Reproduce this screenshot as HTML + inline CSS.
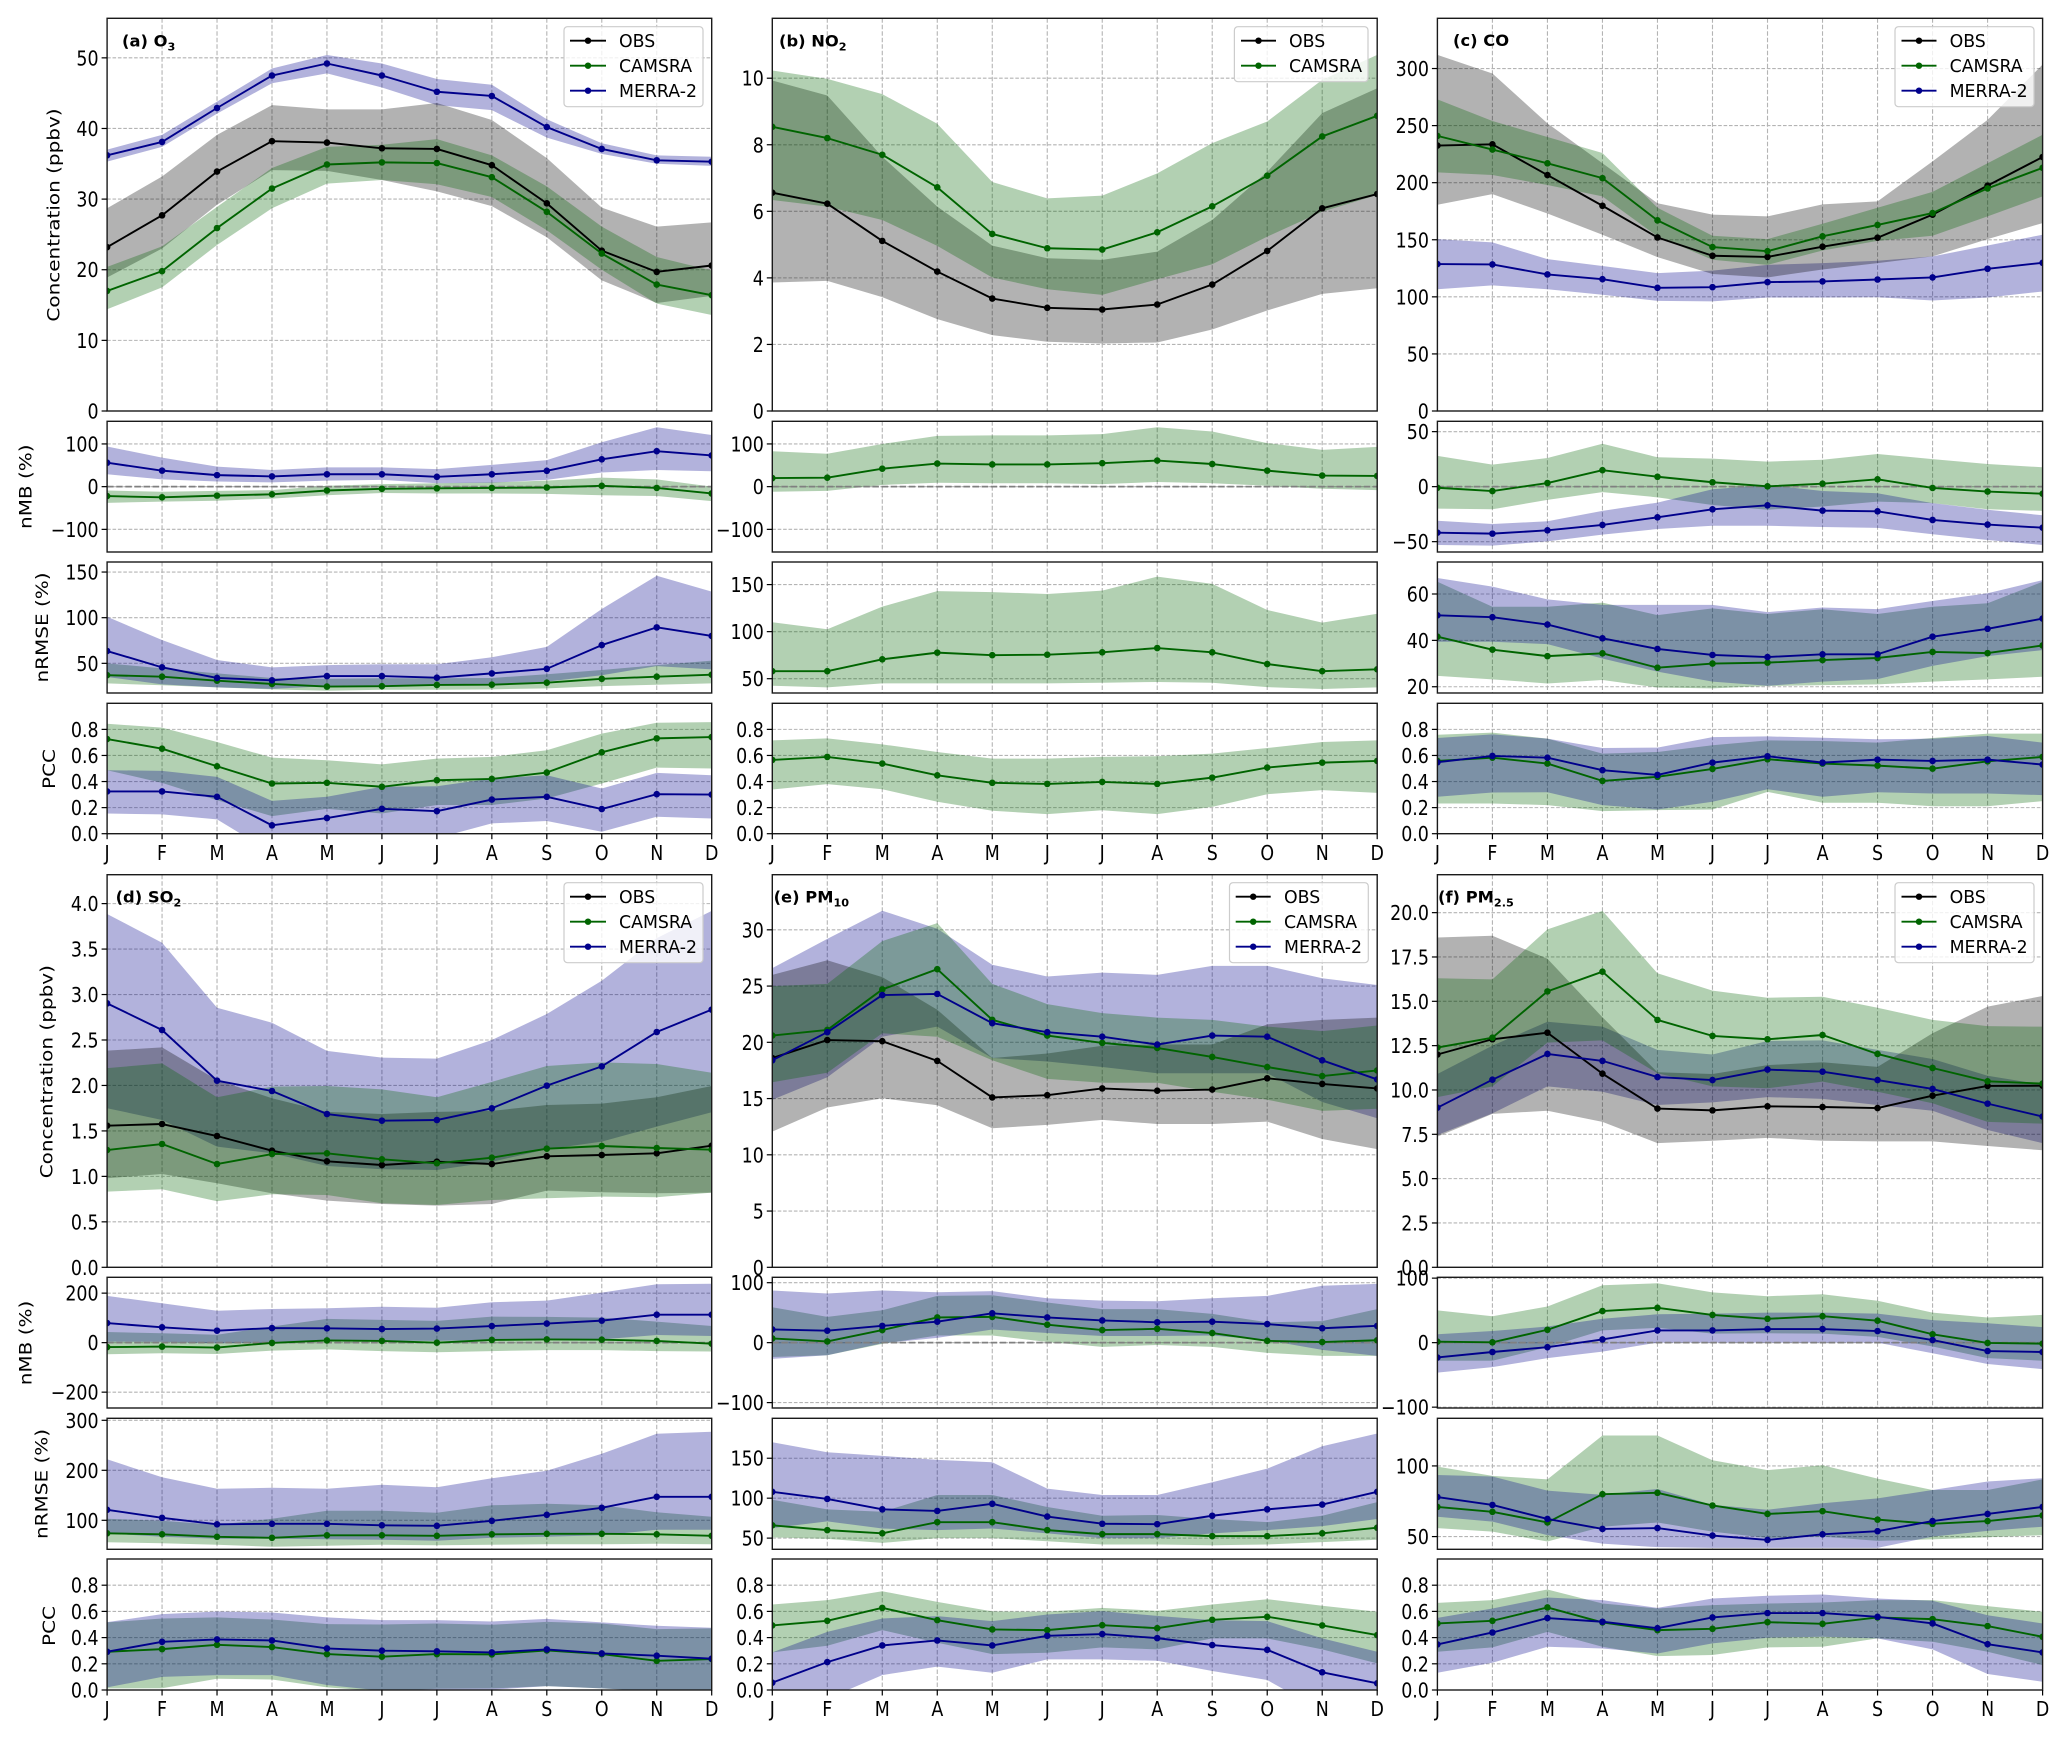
<!DOCTYPE html>
<html lang="en">
<head>
<meta charset="utf-8">
<title>Monthly air quality evaluation</title>
<style>
html,body{margin:0;padding:0;background:#fff}
svg{display:block}
text{font-family:"DejaVu Sans","Liberation Sans",sans-serif;fill:#000}
</style>
</head>
<body>
<svg id="figure" xmlns="http://www.w3.org/2000/svg" width="2067" height="1737" viewBox="0 0 2067 1737"></svg>
<script>
const months=['J','F','M','A','M','J','J','A','S','O','N','D'];

// (a) O3
const o3ConcObsMean=[23.2,27.7,33.9,38.2,38.0,37.2,37.1,34.8,29.4,22.7,19.7,20.6];
const o3ConcObsLow=[18.9,23.0,29.2,34.1,34.0,32.7,31.1,29.0,24.6,18.5,15.3,16.3];
const o3ConcObsHigh=[28.7,33.2,39.1,43.3,42.7,42.7,43.6,41.2,35.8,28.8,26.1,26.7];
const o3ConcCamsMean=[17.0,19.8,25.9,31.5,34.9,35.2,35.1,33.1,28.2,22.3,17.9,16.4];
const o3ConcCamsLow=[14.4,17.5,23.5,28.7,32.2,32.7,32.1,30.3,25.6,20.0,15.2,13.6];
const o3ConcCamsHigh=[20.4,23.3,28.9,34.4,37.4,37.7,38.5,36.2,31.8,26.1,21.8,19.9];
const o3ConcMerraMean=[36.2,38.1,42.9,47.5,49.2,47.5,45.2,44.6,40.2,37.1,35.5,35.3];
const o3ConcMerraLow=[35.3,37.4,42.1,46.4,47.8,45.8,43.3,42.6,38.7,36.4,35.0,34.7];
const o3ConcMerraHigh=[37.0,39.1,43.8,48.5,50.4,49.2,47.0,46.2,41.3,37.9,36.2,36.0];
const o3NmbCamsMean=[-22,-25,-21,-18,-9,-5,-4,-3,-2,2,-3,-16];
const o3NmbCamsLow=[-38,-35,-33,-28,-20,-15,-16,-16,-17,-20,-22,-34];
const o3NmbCamsHigh=[-9,-12,-10,-8,2,6,8,10,14,21,17,0];
const o3NmbMerraMean=[56,37.5,27,24,29,29,23,29,37,64,83,73];
const o3NmbMerraLow=[29,17,12,10,14,16,8,9,16,33,39,36];
const o3NmbMerraHigh=[94,68,47,39,45,45,41,51,62,104,139,121];
const o3RmseCamsMean=[37,35.4,31,27.4,24.5,25,26.3,26.6,28.8,33,35.4,37.6];
const o3RmseCamsLow=[28,26,23.7,21.5,20,21,21,21.5,22.6,25,26.6,28];
const o3RmseCamsHigh=[50,44.5,39,34,33,33.6,33.6,34,38,42.7,48,53];
const o3RmseMerraMean=[63.5,45.6,34,31.4,36,36,34.3,39,44,70,89.4,80];
const o3RmseMerraLow=[35,27,23.7,22,25,26,26,26,30,37,47,43.4];
const o3RmseMerraHigh=[101,75.5,53.6,45.6,48,49,49,56.6,68,109.5,146,128.5];
const o3PccCamsMean=[.726,.652,.517,.385,.39,.36,.41,.42,.469,.624,.731,.741];
const o3PccCamsLow=[.487,.39,.257,.135,.19,.155,.22,.22,.27,.385,.507,.5];
const o3PccCamsHigh=[.843,.813,.703,.583,.563,.532,.576,.589,.64,.767,.851,.856];
const o3PccMerraMean=[.324,.324,.283,.064,.12,.191,.173,.262,.283,.189,.303,.30];
const o3PccMerraLow=[.155,.148,.11,-.146,-.12,-.08,-.034,.079,.097,.015,.13,.117];
const o3PccMerraHigh=[.487,.482,.436,.252,.283,.36,.364,.423,.448,.347,.466,.448];

// (b) NO2
const no2ConcObsMean=[6.56,6.23,5.11,4.19,3.38,3.1,3.05,3.2,3.8,4.81,6.09,6.52];
const no2ConcObsLow=[3.86,3.91,3.42,2.76,2.28,2.08,2.03,2.06,2.45,3.02,3.52,3.69];
const no2ConcObsHigh=[9.93,9.48,7.64,6.14,4.97,4.59,4.54,4.79,5.74,7.19,8.95,9.7];
const no2ConcCamsMean=[8.54,8.2,7.7,6.72,5.32,4.89,4.85,5.37,6.15,7.07,8.25,8.87];
const no2ConcCamsLow=[6.34,6.14,5.74,4.96,4.01,3.66,3.49,3.96,4.41,5.24,5.99,6.49];
const no2ConcCamsHigh=[10.23,9.98,9.52,8.63,6.88,6.39,6.47,7.14,8.05,8.7,9.95,10.7];
const no2NmbCamsMean=[20,21,42,54,52,52,55,61,53,37.5,26,25];
const no2NmbCamsLow=[-12,-10,4,9,8,8,6,11,8,2,-5,-8];
const no2NmbCamsHigh=[83,77,100,119,120,120,123,139,129,102,86,93];
const no2RmseCamsMean=[58,58,70.6,77.7,75,75.5,78,82.6,78,65.6,58,60];
const no2RmseCamsLow=[42.5,40.8,45,45,45,45,45.7,46.5,45.7,41,39,40.8];
const no2RmseCamsHigh=[110,102.5,126.6,143,142,140,143.6,158.5,150.7,123,109.6,119];
const no2PccCamsMean=[.566,.589,.538,.448,.39,.382,.397,.382,.43,.507,.545,.558];
const no2PccCamsLow=[.339,.38,.341,.245,.176,.15,.18,.15,.206,.303,.334,.313];
const no2PccCamsHigh=[.716,.731,.685,.627,.576,.576,.589,.594,.614,.657,.703,.716];

// (c) CO
const coConcObsMean=[232.5,233.6,206.7,179.8,152,136,135,143.9,151.8,172,197.4,222.5];
const coConcObsLow=[180.7,190,173,154.4,134.8,120,117,124,129.5,135.4,150.6,164.6];
const coConcObsHigh=[312,295.6,252,217,182,172,170.5,181,183.6,218.7,255,303.5];
const coConcCamsMean=[241,229,217,204,167,143.6,140,153,163,173.4,195,213];
const coConcCamsLow=[209,206.7,198,188,153,132.5,128,140.6,149,153.5,170.5,188];
const coConcCamsHigh=[273,254,240,226,178,153.5,150.6,164,178,192,217,242];
const coConcMerraMean=[128.7,128.4,119.6,115.5,107.9,108.5,112.9,113.5,115.2,117,124.6,129.8];
const coConcMerraLow=[106.7,110,106.7,101.8,96.5,96,99.4,99.4,99.7,96.8,99.4,104.7];
const coConcMerraHigh=[150.6,147.7,133,127,120.8,123,128,129.5,131.6,135.4,145,154.4];
const coNmbCamsMean=[-1,-4,3.3,15,9,4,.3,2.7,6.7,-1.2,-4.5,-6.4];
const coNmbCamsLow=[-20,-20.6,-12,-5,-9.7,-16.7,-21,-18,-13.6,-15,-20.6,-22];
const coNmbCamsHigh=[28,20,26,39,26.7,25.5,22.7,24.5,29.7,25,20.6,17.6];
const coNmbMerraMean=[-41.8,-42.7,-39.7,-34.8,-27.9,-20.6,-17,-21.8,-22.4,-30.3,-34.5,-37.3];
const coNmbMerraLow=[-53,-53.6,-49.7,-43.6,-38.5,-35.5,-35.5,-36.7,-37.5,-43.3,-48.5,-53];
const coNmbMerraHigh=[-31,-34,-31.5,-22,-14.5,-2.4,1.5,-4,-6,-15,-21,-26];
const coRmseCamsMean=[41.6,36,33.2,34.4,28.2,30,30.4,31.5,32.4,35,34.5,37.8];
const coRmseCamsLow=[24.7,23.2,21.4,22.9,19.7,19.3,20.3,20.7,21,22.2,23.2,24.3];
const coRmseCamsHigh=[65.3,54.5,54.5,56.3,50.9,53.8,51.4,53.4,51.4,54.5,56,65.3];
const coRmseMerraMean=[50.8,50,46.8,40.9,36.3,33.7,32.8,34,34,41.6,45,49.4];
const coRmseMerraLow=[39.4,39.4,38.4,32.2,26.5,22.2,20.4,22.2,23.3,29,33.2,35.8];
const coRmseMerraHigh=[66.9,63.2,57.7,55.3,55.3,55.3,52.2,54.2,53.5,57,60.3,66];
const coPccCamsMean=[.558,.583,.538,.405,.436,.497,.571,.538,.522,.499,.555,.589];
const coPccCamsLow=[.232,.232,.219,.173,.181,.186,.321,.237,.237,.211,.211,.25];
const coPccCamsHigh=[.759,.775,.729,.614,.627,.678,.716,.711,.698,.734,.767,.767];
const coPccMerraMean=[.548,.596,.583,.487,.451,.545,.594,.545,.568,.558,.568,.53];
const coPccMerraLow=[.283,.316,.318,.219,.186,.245,.341,.283,.318,.308,.308,.296];
const coPccMerraHigh=[.734,.762,.729,.657,.66,.741,.746,.736,.724,.729,.749,.698];

// (d) SO2
const so2ConcObsMean=[1.558,1.576,1.444,1.283,1.166,1.125,1.162,1.136,1.221,1.235,1.254,1.338];
const so2ConcObsLow=[.979,1.026,.924,.814,.733,.696,.678,.696,.843,.825,.814,.821];
const so2ConcObsHigh=[2.383,2.419,2.06,1.86,1.71,1.686,1.71,1.72,1.785,1.80,1.87,1.994];
const so2ConcCamsMean=[1.29,1.356,1.136,1.246,1.254,1.188,1.144,1.206,1.305,1.334,1.312,1.294];
const so2ConcCamsLow=[.832,.858,.726,.803,.795,.704,.685,.74,.759,.777,.77,.821];
const so2ConcCamsHigh=[2.19,2.243,1.87,1.987,1.994,1.957,1.87,2.04,2.214,2.254,2.236,2.14];
const so2ConcMerraMean=[2.903,2.61,2.053,1.939,1.686,1.613,1.62,1.749,1.998,2.21,2.588,2.834];
const so2ConcMerraLow=[1.75,1.62,1.327,1.254,1.114,1.078,1.07,1.16,1.298,1.382,1.547,1.705];
const so2ConcMerraHigh=[3.886,3.57,2.855,2.69,2.38,2.306,2.295,2.5,2.786,3.152,3.62,3.92];
const so2NmbCamsMean=[-18,-16,-20,-1,9,7,0,11,13,12,7,-4];
const so2NmbCamsLow=[-47,-43,-46,-32,-27,-34,-39,-34,-30,-30,-34,-36];
const so2NmbCamsHigh=[43,38,32,65,96,92,88,105,104,101,85,67];
const so2NmbMerraMean=[79,62,48.5,59,58,55,57,67,77,89,113,113];
const so2NmbMerraLow=[4,3,-3,0,11,8,7,11,13,13,31,27];
const so2NmbMerraHigh=[189,159,129,136,139,145,141,163,170,202,236,238];
const so2RmseCamsMean=[74,72,67,65,70,70,69,72,73,73,72,69];
const so2RmseCamsLow=[56,54,51,47,49,51,50,51,52,52,53,52];
const so2RmseCamsHigh=[103,99,91,103,119,119,115,130,133,130,116,107];
const so2RmseMerraMean=[121,105,92,93,93,90,89,99,111,125,147,147];
const so2RmseMerraLow=[74,67,63,63,62,61,59,65,67,70,81,81];
const so2RmseMerraHigh=[222,186,163,165,163,171,166,184,199,233,273,277];
const so2PccCamsMean=[.292,.312,.345,.328,.274,.254,.274,.272,.302,.274,.223,.236];
const so2PccCamsLow=[.012,.013,.086,.08,.02,-.01,.01,.012,.03,.012,-.01,-.02];
const so2PccCamsHigh=[.516,.546,.554,.538,.503,.50,.508,.498,.52,.508,.465,.47];
const so2PccMerraMean=[.292,.368,.386,.378,.317,.30,.295,.287,.31,.279,.262,.239];
const so2PccMerraLow=[.02,.10,.114,.114,.038,-.005,-.002,.002,.03,.012,-.01,-.01];
const so2PccMerraHigh=[.518,.579,.599,.592,.554,.533,.533,.523,.543,.516,.49,.475];

// (e) PM10
const pm10ConcObsMean=[18.6,20.2,20.1,18.35,15.1,15.3,15.9,15.7,15.8,16.8,16.3,15.9];
const pm10ConcObsLow=[12.06,14.2,15.03,14.4,12.36,12.66,13.1,12.74,12.74,12.95,11.4,10.5];
const pm10ConcObsHigh=[26,27.3,25.8,22.9,18.6,19,19.7,19.8,19.8,21.6,22,22.2];
const pm10ConcCamsMean=[20.6,21.1,24.7,26.5,22,20.6,19.95,19.5,18.7,17.8,17,17.5];
const pm10ConcCamsLow=[16.45,17.3,20.8,20.5,18.4,16.75,16.4,16.4,15.6,14.9,13.9,14.1];
const pm10ConcCamsHigh=[25,25.2,29,30.6,25.2,23.4,22.6,22.2,22,21.4,21,21.5];
const pm10ConcMerraMean=[18.4,20.9,24.2,24.3,21.7,20.9,20.5,19.8,20.6,20.5,18.4,16.7];
const pm10ConcMerraLow=[14.9,16.9,20.5,21.4,18.6,18.3,17.8,17.25,17.25,17.25,14.7,13.25];
const pm10ConcMerraHigh=[26.6,29.2,31.7,30.1,26.9,25.85,26.2,26,26.8,26.8,25.7,25.1];
const pm10NmbCamsMean=[7,2,21,42,43,30,21,23,16,3,1,4];
const pm10NmbCamsLow=[-24,-21,-2,12,12,1,-7,-4,-7,-17,-22,-22];
const pm10NmbCamsHigh=[59,43,54,78,79,67,56,56,48,34,36,56];
const pm10NmbMerraMean=[22,20,28,35,49,42,37,34,35,31,24,28];
const pm10NmbMerraLow=[-27,-21,-1,8,22,16,11,11,12,4,-12,-22];
const pm10NmbMerraHigh=[87,82,87,84,86,74,70,69,74,78,95,98];
const pm10RmseCamsMean=[66,60,56,70,70,60,55,55,52.5,52.5,56,63];
const pm10RmseCamsLow=[51,49,44,50,50,46,42,42,41,42,45,48];
const pm10RmseCamsHigh=[98,86,83,104,104,89,78,79,74,70,78,95];
const pm10RmseMerraMean=[108,99,86,84,93,77,68,67.5,78,86,92,108];
const pm10RmseMerraLow=[62.5,71,62,60,62,56,50,50,56,60,65,74];
const pm10RmseMerraHigh=[170,157.5,153,148,145,112,104,104,120,137,165,181];
const pm10PccCamsMean=[.493,.528,.627,.533,.462,.457,.495,.472,.536,.559,.493,.419];
const pm10PccCamsLow=[.287,.338,.457,.361,.274,.284,.325,.31,.394,.394,.31,.203];
const pm10PccCamsHigh=[.653,.686,.754,.673,.6,.597,.627,.604,.653,.693,.643,.597];
const pm10PccMerraMean=[.056,.213,.34,.378,.34,.414,.427,.396,.343,.307,.135,.051];
const pm10PccMerraLow=[-.2,-.067,.114,.178,.132,.234,.234,.223,.145,.076,-.16,-.25];
const pm10PccMerraHigh=[.287,.444,.546,.564,.526,.576,.602,.566,.533,.526,.394,.292];

// (f) PM2.5
const pm25ConcObsMean=[12,12.86,13.23,10.92,8.95,8.85,9.08,9.04,8.98,9.68,10.23,10.24];
const pm25ConcObsLow=[7.37,8.65,8.83,8.2,7,7.14,7.3,7.14,7.1,7.1,6.84,6.6];
const pm25ConcObsHigh=[18.6,18.7,17.4,14.1,11,10.9,11.4,11.56,11.3,13.2,14.7,15.3];
const pm25ConcCamsMean=[12.39,12.95,15.56,16.67,13.95,13.05,12.86,13.1,12.03,11.24,10.49,10.36];
const pm25ConcCamsLow=[9.6,10.2,12.67,12.8,10.94,10.2,10.1,10.47,9.9,9.25,8.2,8.1];
const pm25ConcCamsHigh=[16.3,16.24,19.06,20.1,16.58,15.6,15.2,15.26,14.64,13.95,13.6,13.57];
const pm25ConcMerraMean=[9,10.58,12.03,11.64,10.73,10.56,11.15,11.03,10.56,10.06,9.23,8.5];
const pm25ConcMerraLow=[7.46,8.68,10.2,9.9,9.15,9.3,9.6,9.5,9.15,8.83,7.74,7];
const pm25ConcMerraHigh=[10.9,12.5,13.85,13.57,12.26,12,12.76,12.8,12.26,11.75,10.8,10.3];
const pm25NmbCamsMean=[1.5,.5,20,49,54,43,37,41,34,13,-.5,-1.5];
const pm25NmbCamsLow=[-28,-28,-7,19,23,14,14.5,14,9,-6,-24,-28];
const pm25NmbCamsHigh=[50,41,56,89,92,78,72,75,65,46.5,39,43];
const pm25NmbMerraMean=[-23,-14.5,-7,5,19,19,21,21,18,4,-13,-14.5];
const pm25NmbMerraLow=[-46.5,-38,-24,-14,0,0,0,0,0,-16.5,-33,-41];
const pm25NmbMerraHigh=[13,18,25,37,44,45,46.5,46.5,45,35,30,24];
const pm25RmseCamsMean=[71,67.5,60,80,81,72,66,68,62,59,61,65];
const pm25RmseCamsLow=[56,53.5,46.5,57,60,53.5,49,50,47,48,49.5,51];
const pm25RmseCamsHigh=[99.5,93,90.5,121.5,121.5,104,97,100.5,91,83,83,90.5];
const pm25RmseMerraMean=[78,72.4,62.5,55.4,56,50.7,47.6,51.6,53.8,61,66,71];
const pm25RmseMerraLow=[64,60.6,51,45,42.5,42,42,42,42,50,54,57];
const pm25RmseMerraHigh=[93.6,92.5,82.5,79.5,83.7,72.4,69,73.6,77,83,89,91.3];
const pm25PccCamsMean=[.508,.528,.63,.516,.457,.467,.518,.505,.554,.541,.488,.406];
const pm25PccCamsLow=[.292,.325,.444,.33,.259,.267,.325,.33,.394,.368,.292,.19];
const pm25PccCamsHigh=[.665,.686,.767,.66,.622,.648,.66,.668,.686,.686,.64,.597];
const pm25PccMerraMean=[.348,.439,.549,.521,.472,.554,.587,.587,.559,.508,.35,.287];
const pm25PccMerraLow=[.132,.208,.33,.317,.279,.356,.399,.406,.394,.31,.122,.063];
const pm25PccMerraHigh=[.551,.622,.706,.686,.627,.698,.719,.729,.698,.681,.571,.508];

// tick labels
const o3ConcTicks=[0,10,20,30,40,50];
const no2ConcTicks=[0,2,4,6,8,10];
const coConcTicks=[0,50,100,150,200,250,300];
const so2ConcTicks=[0,.5,1,1.5,2,2.5,3,3.5,4];
const pm10ConcTicks=[0,5,10,15,20,25,30];
const pm25ConcTicks=[0,2.5,5,7.5,10,12.5,15,17.5,20];
const nmb100Ticks=[-100,0,100];
const nmb50Ticks=[-50,0,50];
const nmb200Ticks=[-200,0,200];
const rmse50Ticks=[50,100,150];
const rmseCoTicks=[20,40,60];
const rmseSo2Ticks=[100,200,300];
const rmsePm25Ticks=[50,100];
const pccTicks=[0,.2,.4,.6,.8];

const seriesStyles={
  obs:{label:'OBS',line:'#000000',fill:'rgba(0,0,0,0.3)'},
  cams:{label:'CAMSRA',line:'#006400',fill:'rgba(0,100,0,0.3)'},
  merra:{label:'MERRA-2',line:'#00008b',fill:'rgba(0,0,139,0.3)'}
};
const bandOrderConc=['merra','obs','cams'];
const bandOrderSkill=['cams','merra'];
function S(key,mean,low,high){return {key:key,mean:mean,low:low,high:high};}

const rows=[
 {conc:[18.3,411],nmb:[421.3,552],rmse:[562,693],pcc:[703.3,833.7],monthBase:860,legendTop:26.7,entry:[40.7,65.7,90.7]},
 {conc:[874.7,1267.3],nmb:[1277.3,1408],rmse:[1418.3,1549.3],pcc:[1559,1690],monthBase:1716,legendTop:882.7,entry:[896.7,921.7,946.7]}
];
const cols=[[107.1,711.7],[772.3,1377.2],[1437.4,2042.6]];

const panels=[
 {id:'o3',row:0,col:0,title:'(a) O',sub:'3',titleX:122,titleY:46.7,sub_dy:4,
  legend:{x:564,w:139,lx:570,lw:36,tx:619,n:3},
  labels:{conc:[54,215],nmb:[26,486.7],rmse:[42.5,627.5],pcc:[49.5,769]},
  conc:{lim:[0,55.6],ticks:o3ConcTicks,dec:0,series:[S('obs',o3ConcObsMean,o3ConcObsLow,o3ConcObsHigh),S('cams',o3ConcCamsMean,o3ConcCamsLow,o3ConcCamsHigh),S('merra',o3ConcMerraMean,o3ConcMerraLow,o3ConcMerraHigh)]},
  nmb:{lim:[-153,153],ticks:nmb100Ticks,dec:0,series:[S('cams',o3NmbCamsMean,o3NmbCamsLow,o3NmbCamsHigh),S('merra',o3NmbMerraMean,o3NmbMerraLow,o3NmbMerraHigh)]},
  rmse:{lim:[17.5,161],ticks:rmse50Ticks,dec:0,series:[S('cams',o3RmseCamsMean,o3RmseCamsLow,o3RmseCamsHigh),S('merra',o3RmseMerraMean,o3RmseMerraLow,o3RmseMerraHigh)]},
  pcc:{lim:[0,1],ticks:pccTicks,dec:1,series:[S('cams',o3PccCamsMean,o3PccCamsLow,o3PccCamsHigh),S('merra',o3PccMerraMean,o3PccMerraLow,o3PccMerraHigh)]}},
 {id:'no2',row:0,col:1,title:'(b) NO',sub:'2',titleX:779,titleY:46.7,sub_dy:4,
  legend:{x:1234.4,w:133.6,lx:1241,lw:35,tx:1289,n:2},
  conc:{lim:[0,11.8],ticks:no2ConcTicks,dec:0,series:[S('obs',no2ConcObsMean,no2ConcObsLow,no2ConcObsHigh),S('cams',no2ConcCamsMean,no2ConcCamsLow,no2ConcCamsHigh)]},
  nmb:{lim:[-153,153],ticks:nmb100Ticks,dec:0,series:[S('cams',no2NmbCamsMean,no2NmbCamsLow,no2NmbCamsHigh)]},
  rmse:{lim:[34.8,174],ticks:rmse50Ticks,dec:0,series:[S('cams',no2RmseCamsMean,no2RmseCamsLow,no2RmseCamsHigh)]},
  pcc:{lim:[0,1],ticks:pccTicks,dec:1,series:[S('cams',no2PccCamsMean,no2PccCamsLow,no2PccCamsHigh)]}},
 {id:'co',row:0,col:2,title:'(c) CO',sub:'',titleX:1453,titleY:46.2,sub_dy:4,
  legend:{x:1895,w:139,lx:1901.5,lw:35,tx:1949.6,n:3},
  conc:{lim:[0,344],ticks:coConcTicks,dec:0,series:[S('obs',coConcObsMean,coConcObsLow,coConcObsHigh),S('cams',coConcCamsMean,coConcCamsLow,coConcCamsHigh),S('merra',coConcMerraMean,coConcMerraLow,coConcMerraHigh)]},
  nmb:{lim:[-59.4,59.4],ticks:nmb50Ticks,dec:0,series:[S('cams',coNmbCamsMean,coNmbCamsLow,coNmbCamsHigh),S('merra',coNmbMerraMean,coNmbMerraLow,coNmbMerraHigh)]},
  rmse:{lim:[17.3,73.8],ticks:rmseCoTicks,dec:0,series:[S('cams',coRmseCamsMean,coRmseCamsLow,coRmseCamsHigh),S('merra',coRmseMerraMean,coRmseMerraLow,coRmseMerraHigh)]},
  pcc:{lim:[0,1],ticks:pccTicks,dec:1,series:[S('cams',coPccCamsMean,coPccCamsLow,coPccCamsHigh),S('merra',coPccMerraMean,coPccMerraLow,coPccMerraHigh)]}},
 {id:'so2',row:1,col:0,title:'(d) SO',sub:'2',titleX:115.6,titleY:902.7,sub_dy:4,
  legend:{x:564,w:139,lx:570,lw:36,tx:619,n:3},
  labels:{conc:[47,1071.7],nmb:[26,1343],rmse:[42,1484],pcc:[49.5,1626]},
  conc:{lim:[0,4.318],ticks:so2ConcTicks,dec:1,series:[S('obs',so2ConcObsMean,so2ConcObsLow,so2ConcObsHigh),S('cams',so2ConcCamsMean,so2ConcCamsLow,so2ConcCamsHigh),S('merra',so2ConcMerraMean,so2ConcMerraLow,so2ConcMerraHigh)]},
  nmb:{lim:[-264,264],ticks:nmb200Ticks,dec:0,series:[S('cams',so2NmbCamsMean,so2NmbCamsLow,so2NmbCamsHigh),S('merra',so2NmbMerraMean,so2NmbMerraLow,so2NmbMerraHigh)]},
  rmse:{lim:[42,304],ticks:rmseSo2Ticks,dec:0,series:[S('cams',so2RmseCamsMean,so2RmseCamsLow,so2RmseCamsHigh),S('merra',so2RmseMerraMean,so2RmseMerraLow,so2RmseMerraHigh)]},
  pcc:{lim:[0,1],ticks:pccTicks,dec:1,series:[S('cams',so2PccCamsMean,so2PccCamsLow,so2PccCamsHigh),S('merra',so2PccMerraMean,so2PccMerraLow,so2PccMerraHigh)]}},
 {id:'pm10',row:1,col:1,title:'(e) PM',sub:'10',titleX:773.6,titleY:902.7,sub_dy:4,
  legend:{x:1229.5,w:138.8,lx:1235.7,lw:35,tx:1284,n:3},
  conc:{lim:[0,34.9],ticks:pm10ConcTicks,dec:0,series:[S('obs',pm10ConcObsMean,pm10ConcObsLow,pm10ConcObsHigh),S('cams',pm10ConcCamsMean,pm10ConcCamsLow,pm10ConcCamsHigh),S('merra',pm10ConcMerraMean,pm10ConcMerraLow,pm10ConcMerraHigh)]},
  nmb:{lim:[-109,109],ticks:nmb100Ticks,dec:0,series:[S('cams',pm10NmbCamsMean,pm10NmbCamsLow,pm10NmbCamsHigh),S('merra',pm10NmbMerraMean,pm10NmbMerraLow,pm10NmbMerraHigh)]},
  rmse:{lim:[36,200],ticks:rmse50Ticks,dec:0,series:[S('cams',pm10RmseCamsMean,pm10RmseCamsLow,pm10RmseCamsHigh),S('merra',pm10RmseMerraMean,pm10RmseMerraLow,pm10RmseMerraHigh)]},
  pcc:{lim:[0,1],ticks:pccTicks,dec:1,series:[S('cams',pm10PccCamsMean,pm10PccCamsLow,pm10PccCamsHigh),S('merra',pm10PccMerraMean,pm10PccMerraLow,pm10PccMerraHigh)]}},
 {id:'pm25',row:1,col:2,title:'(f) PM',sub:'2.5',titleX:1438,titleY:902.7,sub_dy:4,
  legend:{x:1895,w:139,lx:1901.5,lw:35,tx:1949.6,n:3},
  conc:{lim:[0,22.14],ticks:pm25ConcTicks,dec:1,series:[S('obs',pm25ConcObsMean,pm25ConcObsLow,pm25ConcObsHigh),S('cams',pm25ConcCamsMean,pm25ConcCamsLow,pm25ConcCamsHigh),S('merra',pm25ConcMerraMean,pm25ConcMerraLow,pm25ConcMerraHigh)]},
  nmb:{lim:[-101.3,101.3],ticks:nmb100Ticks,dec:0,series:[S('cams',pm25NmbCamsMean,pm25NmbCamsLow,pm25NmbCamsHigh),S('merra',pm25NmbMerraMean,pm25NmbMerraLow,pm25NmbMerraHigh)]},
  rmse:{lim:[41,133.7],ticks:rmsePm25Ticks,dec:0,series:[S('cams',pm25RmseCamsMean,pm25RmseCamsLow,pm25RmseCamsHigh),S('merra',pm25RmseMerraMean,pm25RmseMerraLow,pm25RmseMerraHigh)]},
  pcc:{lim:[0,1],ticks:pccTicks,dec:1,series:[S('cams',pm25PccCamsMean,pm25PccCamsLow,pm25PccCamsHigh),S('merra',pm25PccMerraMean,pm25PccMerraLow,pm25PccMerraHigh)]}}
];

const NS='http://www.w3.org/2000/svg';
const root=document.getElementById('figure');
const defs=document.createElementNS(NS,'defs');
root.appendChild(defs);

function make(tag,parent,attrs){
  const n=document.createElementNS(NS,tag);
  for(const k in attrs){n.setAttribute(k,attrs[k]);}
  parent.appendChild(n);
  return n;
}
function addText(parent,str,x,y,size,anchor,sx,rot,weight){
  let tf='translate('+x+' '+y+') scale('+sx+' 1)';
  if(rot){tf+=' rotate('+rot+')';}
  const t=make('text',parent,{transform:tf,'font-size':size,'text-anchor':anchor,'font-weight':weight||'normal'});
  t.textContent=str;
  return t;
}
function fmt(v,dec){return v.toFixed(dec).replace('-','\u2212');}

const TICK_FS=20.5,TICK_SX=0.85;
const metricLabels={conc:'Concentration (ppbv)',nmb:'nMB (%)',rmse:'nRMSE (%)',pcc:'PCC'};

function drawAxes(panel,metric){
  const cfg=panel[metric];
  const yr=rows[panel.row][metric];
  const xr=cols[panel.col];
  const xScale=function(i){return xr[0]+i/11*(xr[1]-xr[0]);};
  const yScale=function(v){return yr[1]-(v-cfg.lim[0])/(cfg.lim[1]-cfg.lim[0])*(yr[1]-yr[0]);};
  const clipId='clip-'+panel.id+'-'+metric;
  const cp=make('clipPath',defs,{id:clipId});
  make('rect',cp,{x:xr[0],y:yr[0],width:xr[1]-xr[0],height:yr[1]-yr[0]});

  const g=make('g',root,{});
  
  

  // grid
  const grid=make('g',g,{stroke:'#b4b4b4','stroke-width':1.1,fill:'none'});
  
  
  months.forEach(function(m,i){
    if(i===0||i===11){return;}
    make('line',grid,{x1:xScale(i),x2:xScale(i),y1:yr[0],y2:yr[1],'stroke-dasharray':'4.5 2'});
  });
  cfg.ticks.forEach(function(v){
    if(v===cfg.lim[0]){return;}
    make('line',grid,{x1:xr[0],x2:xr[1],y1:yScale(v),y2:yScale(v),'stroke-dasharray':'3.6 1.8'});
  });

  // bands, stacked in the order the source figure composites them
  const clip=make('g',g,{'clip-path':'url(#'+clipId+')'});
  const order=metric==='conc'?bandOrderConc:bandOrderSkill;
  order.forEach(function(key){
    const s=cfg.series.find(function(item){return item.key===key;});
    if(!s){return;}
    const upper=s.high.map(function(v,i){return xScale(i).toFixed(2)+','+yScale(v).toFixed(2);});
    const lower=s.low.map(function(v,i){return xScale(i).toFixed(2)+','+yScale(v).toFixed(2);}).reverse();
    const band=make('polygon',clip,{points:upper.concat(lower).join(' '),fill:seriesStyles[s.key].fill});
    
    
  });

  // zero reference
  if(metric==='nmb'){
    const zero=make('line',clip,{x1:xr[0],x2:xr[1],y1:yScale(0),y2:yScale(0),stroke:'#808080','stroke-width':1.8,'stroke-dasharray':'6.5 2.6'});
    
    
  }

  // lines and markers
  cfg.series.forEach(function(s){
    const col=seriesStyles[s.key].line;
    const pts=s.mean.map(function(v,i){return xScale(i).toFixed(2)+','+yScale(v).toFixed(2);}).join(' ');
    const ln=make('polyline',clip,{points:pts,fill:'none',stroke:col,'stroke-width':1.9,'stroke-linejoin':'round'});
    
    
    s.mean.forEach(function(v,i){
      const c=make('circle',clip,{cx:xScale(i),cy:yScale(v),r:3.3,fill:col});
      
      
    });
  });

  // frame
  const frame=make('rect',g,{x:xr[0],y:yr[0],width:xr[1]-xr[0],height:yr[1]-yr[0],fill:'none',stroke:'#1a1a1a','stroke-width':1.4});
  
  

  // y ticks
  cfg.ticks.forEach(function(v){
    const y=yScale(v);
    make('line',g,{x1:xr[0]-5.5,x2:xr[0],y1:y,y2:y,stroke:'#000','stroke-width':1.2});
    const lab=addText(g,fmt(v,cfg.dec),xr[0]-8.5,y+7.5,TICK_FS,'end',TICK_SX);
    
    
  });

  // y label
  if(panel.labels){
    const pos=panel.labels[metric];
    const yl=addText(g,metricLabels[metric],pos[0]+5.5,pos[1],20,'middle',TICK_SX,-90);
    
    
  }

  // month axis
  if(metric==='pcc'){
    months.forEach(function(m,i){
      const x=xScale(i);
      make('line',g,{x1:x,x2:x,y1:yr[1],y2:yr[1]+5.5,stroke:'#000','stroke-width':1.2});
      const lab=addText(g,m,x,rows[panel.row].monthBase,TICK_FS,'middle',TICK_SX);
      
      
    });
  }
}

function drawLegend(panel){
  const L=panel.legend;
  const r=rows[panel.row];
  const keys=['obs','cams','merra'].slice(0,L.n);
  const g=make('g',root,{});
  
  
  const h=L.n===3?80:55;
  make('rect',g,{x:L.x,y:r.legendTop,width:L.w,height:h,rx:3.5,ry:3.5,fill:'rgba(255,255,255,0.8)',stroke:'#cccccc','stroke-width':1.2});
  keys.forEach(function(k,i){
    const y=r.entry[i];
    const st=seriesStyles[k];
    const eg=make('g',g,{});
    
    
    make('line',eg,{x1:L.lx,x2:L.lx+L.lw,y1:y,y2:y,stroke:st.line,'stroke-width':1.9});
    make('circle',eg,{cx:L.lx+L.lw/2,cy:y,r:3.2,fill:st.line});
    addText(eg,st.label,L.tx,y+6.5,17.5,'start',0.99);
  });
}

function drawTitle(panel){
  const t=make('text',root,{transform:'translate('+panel.titleX+' '+panel.titleY+') scale(1.02 1)','font-size':16,'font-weight':'bold'});
  
  
  t.appendChild(document.createTextNode(panel.title));
  if(panel.sub){
    const ts=make('tspan',t,{dy:panel.sub_dy,'font-size':11});
    ts.textContent=panel.sub;
  }
}

panels.forEach(function(p){
  ['conc','nmb','rmse','pcc'].forEach(function(m){drawAxes(p,m);});
  drawTitle(p);
  drawLegend(p);
});
</script>
</body>
</html>
